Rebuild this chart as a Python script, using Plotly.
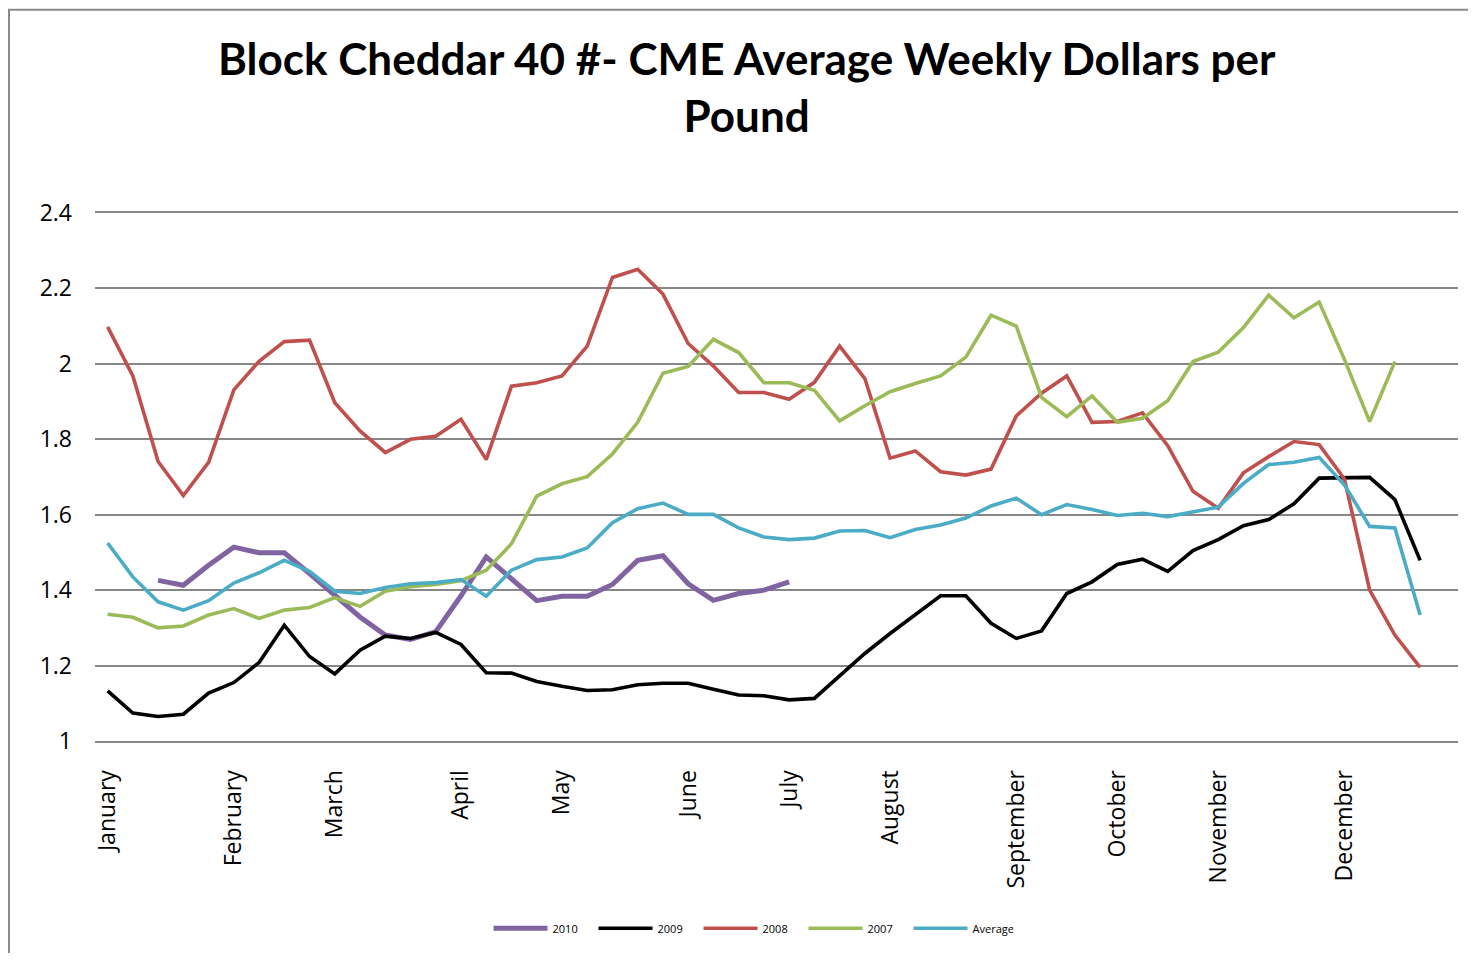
import plotly.graph_objects as go

weeks = list(range(53))
month_ticks = [0, 5, 9, 14, 18, 23, 27, 31, 36, 40, 44, 49]
month_names = ["January", "February", "March", "April", "May", "June", "July",
               "August", "September", "October", "November", "December"]

y2010 = [None, None, 1.426, 1.413, 1.466, 1.514, 1.499, 1.499, 1.444, 1.387, 1.329, 1.281, 1.269, 1.290,
         1.385, 1.488, 1.431, 1.372, 1.384, 1.384, 1.415, 1.479, 1.491, 1.417, 1.373, 1.391, 1.400, 1.422]

y2009 = [1.133, 1.074, 1.065, 1.071, 1.127, 1.155, 1.208, 1.307, 1.224, 1.178, 1.241, 1.278, 1.272, 1.288,
         1.256, 1.181, 1.180, 1.158, 1.145, 1.134, 1.136, 1.149, 1.153, 1.153, 1.137, 1.122, 1.120, 1.109,
         1.113, 1.171, 1.232, 1.285, 1.334, 1.385, 1.385, 1.312, 1.272, 1.292, 1.391, 1.422, 1.468, 1.482,
         1.450, 1.505, 1.534, 1.571, 1.587, 1.629, 1.697, 1.699, 1.699, 1.640, 1.479]

y2008 = [2.098, 1.968, 1.741, 1.651, 1.739, 1.931, 2.007, 2.059, 2.063, 1.897, 1.822, 1.765, 1.800, 1.808,
         1.853, 1.746, 1.941, 1.950, 1.968, 2.047, 2.229, 2.251, 2.185, 2.054, 1.994, 1.924, 1.924, 1.906,
         1.951, 2.047, 1.961, 1.750, 1.769, 1.714, 1.705, 1.721, 1.862, 1.922, 1.968, 1.845, 1.847, 1.870,
         1.783, 1.662, 1.617, 1.711, 1.754, 1.794, 1.786, 1.695, 1.400, 1.281, 1.195]

y2007 = [1.336, 1.328, 1.300, 1.305, 1.334, 1.351, 1.325, 1.347, 1.354, 1.380, 1.357, 1.397, 1.409, 1.415,
         1.425, 1.453, 1.523, 1.649, 1.682, 1.701, 1.761, 1.845, 1.975, 1.993, 2.065, 2.030, 1.950, 1.950,
         1.930, 1.849, 1.889, 1.926, 1.948, 1.968, 2.018, 2.129, 2.100, 1.911, 1.860, 1.915, 1.845, 1.856,
         1.902, 2.006, 2.031, 2.096, 2.182, 2.122, 2.164, 2.012, 1.847, 2.006]

y_avg = [1.525, 1.435, 1.369, 1.347, 1.372, 1.419, 1.446, 1.479, 1.450, 1.397, 1.391, 1.407, 1.417, 1.420,
         1.428, 1.384, 1.453, 1.481, 1.488, 1.512, 1.579, 1.616, 1.631, 1.601, 1.601, 1.565, 1.541, 1.534,
         1.538, 1.557, 1.558, 1.539, 1.561, 1.573, 1.591, 1.623, 1.644, 1.600, 1.627, 1.614, 1.598, 1.604,
         1.595, 1.608, 1.620, 1.683, 1.733, 1.739, 1.752, 1.679, 1.569, 1.565, 1.334]

series = [
    ("2010", y2010, "#8064A2", 5),
    ("2009", y2009, "#000000", 3.6),
    ("2008", y2008, "#C0504D", 3.6),
    ("2007", y2007, "#9BBB59", 3.6),
    ("Average", y_avg, "#4BACC6", 3.6),
]

fig = go.Figure()
for name, ys, color, w in series:
    fig.add_trace(go.Scatter(
        x=weeks[:len(ys)], y=ys, name=name, mode="lines",
        line=dict(color=color, width=w), connectgaps=False,
    ))

TICKFONT = "Open Sans, sans-serif"
TITLEFONT = "Lato, sans-serif"

fig.update_layout(
    width=1460, height=945,
    margin=dict(l=87, r=10, t=205, b=210),
    paper_bgcolor="white", plot_bgcolor="white",
    font=dict(family=TICKFONT, color="black"),
    xaxis=dict(
        range=[-0.5, 53.5],
        tickmode="array", tickvals=month_ticks, ticktext=month_names,
        tickangle=-90, tickfont=dict(size=23, family=TICKFONT, color="black"),
        showgrid=False, zeroline=False,
        showline=True, linecolor="#878787", linewidth=2, mirror=True,
        ticklabelstandoff=18,
    ),
    yaxis=dict(
        range=[1, 2.4], tickmode="array",
        tickvals=[1, 1.2, 1.4, 1.6, 1.8, 2, 2.2, 2.4],
        ticktext=["1", "1.2", "1.4", "1.6", "1.8", "2", "2.2", "2.4"],
        tickfont=dict(size=23, family=TICKFONT, color="black"),
        showgrid=True, gridcolor="#878787", gridwidth=2,
        zeroline=False, showline=False, ticklabelstandoff=22,
    ),
    legend=dict(
        orientation="h", x=0.4813, xanchor="center", y=-0.3547, yanchor="middle",
        font=dict(size=11, family=TICKFONT, color="black"), traceorder="normal",
        itemwidth=54, entrywidth=36, entrywidthmode="pixels",
    ),
    annotations=[dict(
        text="<b>Block Cheddar 40 #- CME Average Weekly Dollars per<br>Pound</b>",
        font=dict(family=TITLEFONT, size=44, color="black"),
        xref="paper", yref="paper", x=0.478, y=1.2396,
        xanchor="center", yanchor="middle", showarrow=False,
    )],
    shapes=[dict(
        type="rect", xref="paper", yref="paper",
        x0=-0.0631, x1=1.2, y0=-0.6, y1=1.3849,
        line=dict(color="#8a8a8a", width=2), fillcolor="rgba(0,0,0,0)", layer="below",
    )],
)

fig.write_html("out.html")
